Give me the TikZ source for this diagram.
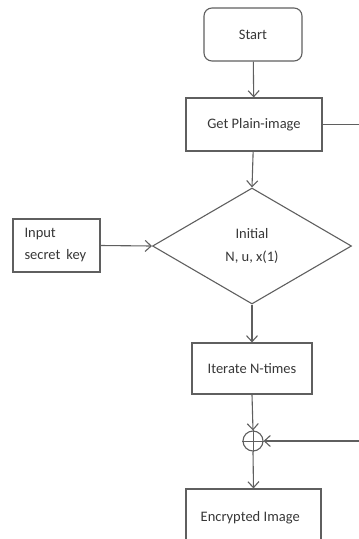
\documentclass[tikz,border=0pt]{standalone}
\usepackage{fontspec}
\setmainfont{Carlito}
\usetikzlibrary{arrows.meta,shapes.geometric}

\definecolor{linegray}{RGB}{95,95,95}
\definecolor{textgray}{RGB}{55,55,55}

\begin{document}
\begin{tikzpicture}[x=1pt, y=-1pt,
    block/.style={draw=linegray, line width=1.1pt, minimum height=53pt,
        inner sep=0pt, text=textgray, font=\fontsize{14.5}{22}\selectfont},
    startbox/.style={block, rounded corners=8pt},
    decision/.style={diamond, draw=linegray, line width=1.1pt, inner sep=0pt,
        minimum width=199pt, minimum height=116pt, align=center,
        text=textgray, font=\fontsize{14.5}{23}\selectfont},
    xorsym/.style={circle, draw=linegray, line width=1.1pt, inner sep=0pt,
        minimum size=20pt},
    flow/.style={draw=linegray, line width=1.1pt,
        -{Straight Barb[length=6pt,width=11pt]}},
    link/.style={draw=linegray, line width=1.1pt}]
    % page frame
    \clip (0,0) rectangle (359,539);

    % boxes
    \node[startbox, minimum width=98pt] (start) at (253,34.5) {Start};
    \node[block, minimum width=136pt] (plain) at (254,124.5) {Get Plain-image};
    \node[decision] (init) at (252,246) {Initial\\N, u, x(1)};
    \node[block, minimum width=87pt, text width=64pt, align=left] (key)
        at (56.5,245.5) {Input\\secret\hspace{6pt}key};
    \node[block, minimum width=120pt, minimum height=51pt] (iter)
        at (252,368.5) {Iterate N-times};
    \node[xorsym] (xor) at (253,441) {};
    \node[block, minimum width=135pt, minimum height=62pt] (enc)
        at (253.5,520) {\raisebox{8pt}{Encrypted Image\ \ }};

    % xor cross
    \draw[link, line width=0.8pt] (xor.north) -- (xor.south)
        (xor.west) -- (xor.east);

    % free ends at the right margin
    \coordinate (plainout) at (359,124.5);
    \coordinate (xorin) at (359,441);

    % connectors
    \draw[flow] (start) -- (plain);
    \draw[link] (plain.east) -- (plainout);
    \draw[flow] (plain) -- (init.north);
    \draw[flow] (key.east) -- (init.west);
    \draw[flow] (init.south) -- (iter.north);
    \draw[flow] (iter.south) -- (xor.north);
    \draw[flow] (xorin) -- (xor.east);
    \draw[flow] (xor.south) -- (enc.north);
\end{tikzpicture}
\end{document}
